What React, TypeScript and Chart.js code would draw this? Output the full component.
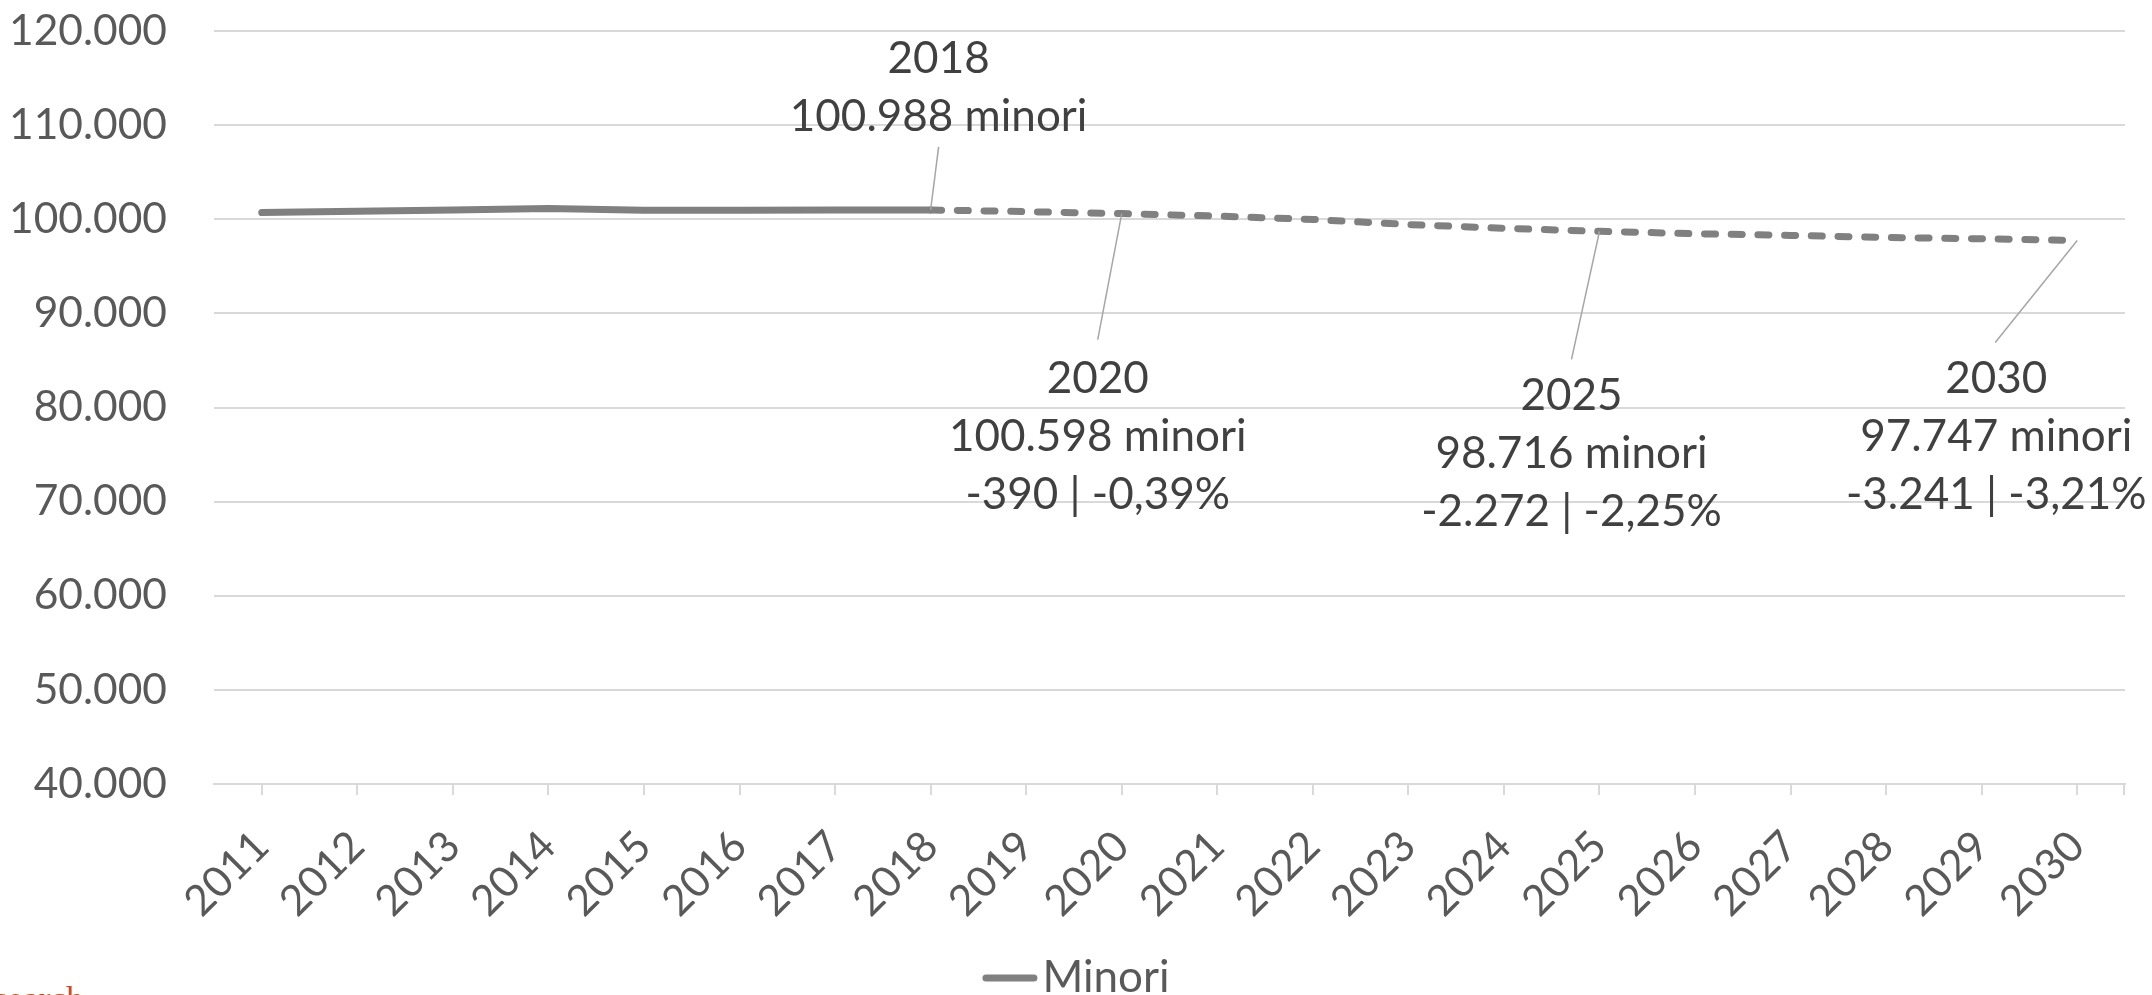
import React, { useEffect, useRef } from "react";
import { Chart, registerables } from "chart.js";

Chart.register(...registerables);

// ---- data ----
const years: string[] = [
  "2011", "2012", "2013", "2014", "2015", "2016", "2017", "2018", "2019", "2020",
  "2021", "2022", "2023", "2024", "2025", "2026", "2027", "2028", "2029", "2030",
];
const minori: number[] = [
  100704, 100840, 100990, 101132, 100952, 100960, 100975, 100988, 100808, 100598,
  100339, 99978, 99437, 99041, 98716, 98464, 98283, 98067, 97923, 97747,
];
const seriesLabel = "Minori";
const lastActualIndex = 7; // 2018: last observed year, forecast dashed afterwards
const yMin = 40000;
const yMax = 120000;
const yStep = 10000;
const annotatedYears: string[] = ["2018", "2020", "2025", "2030"];
const footerText = "search";

// ---- styling / placement of callouts (relative to their point) ----
const calloutOffsets = [
  { dx: 8, dy: -153, lx: 8, ly: -63 },
  { dx: -24, dy: 163, lx: -24, ly: 126 },
  { dx: -28, dy: 163, lx: -28, ly: 128 },
  { dx: -81, dy: 137, lx: -82, ly: 102 },
];

const FONT = "Lato";
const AXIS_COLOR = "#595959";
const TEXT_COLOR = "#404040";
const GRID_COLOR = "#d9d9d9";
const LINE_COLOR = "#808080";
const AXIS_FONT_SIZE = 42.5;
const CALLOUT_FONT_SIZE = 44;

function fmtInt(v: number): string {
  const s = Math.abs(Math.round(v)).toString().replace(/\B(?=(\d{3})+(?!\d))/g, ".");
  return (v < 0 ? "-" : "") + s;
}
function fmtPct(v: number): string {
  return (v < 0 ? "-" : "") + Math.abs(v).toFixed(2).replace(".", ",") + "%";
}

function calloutLines(idx: number): string[] {
  const base = minori[lastActualIndex];
  const val = minori[idx];
  const lines = [years[idx], `${fmtInt(val)} minori`];
  if (idx !== lastActualIndex) {
    const diff = val - base;
    lines.push(`${fmtInt(diff)} | ${fmtPct((diff / base) * 100)}`);
  }
  return lines;
}

const overlayPlugin = {
  id: "overlay",
  afterDatasetsDraw(chart: any) {
    const ctx: CanvasRenderingContext2D = chart.ctx;
    const xs = chart.scales.x;
    const ys = chart.scales.y;
    const area = chart.chartArea;
    ctx.save();

    // closing tick mark at right end of the category axis
    ctx.strokeStyle = GRID_COLOR;
    ctx.lineWidth = 2;
    ctx.beginPath();
    ctx.moveTo(area.right - 1, area.bottom);
    ctx.lineTo(area.right - 1, area.bottom + 11);
    ctx.stroke();

    // callouts
    annotatedYears.forEach((yr, i) => {
      const idx = years.indexOf(yr);
      const px = xs.getPixelForValue(idx);
      const py = ys.getPixelForValue(minori[idx]);
      const o = calloutOffsets[i];
      ctx.strokeStyle = "#a6a6a6";
      ctx.lineWidth = 1.5;
      ctx.beginPath();
      ctx.moveTo(px, py);
      ctx.lineTo(px + o.lx, py + o.ly);
      ctx.stroke();
      ctx.fillStyle = TEXT_COLOR;
      ctx.font = `${CALLOUT_FONT_SIZE}px ${FONT}`;
      ctx.textAlign = "center";
      ctx.textBaseline = "alphabetic";
      calloutLines(idx).forEach((t, k) => {
        ctx.fillText(t, px + o.dx, py + o.dy + k * 58 + 16);
      });
    });

    // legend
    ctx.font = `${CALLOUT_FONT_SIZE}px ${FONT}`;
    const tw = ctx.measureText(seriesLabel).width;
    const lineLen = 55;
    const gap = 5;
    const total = lineLen + gap + tw;
    const sx = chart.width / 2 - total / 2;
    const ly = chart.height - 17;
    ctx.strokeStyle = LINE_COLOR;
    ctx.lineWidth = 7;
    ctx.lineCap = "round";
    ctx.beginPath();
    ctx.moveTo(sx + 3.5, ly);
    ctx.lineTo(sx + lineLen - 3.5, ly);
    ctx.stroke();
    ctx.fillStyle = AXIS_COLOR;
    ctx.textAlign = "left";
    ctx.textBaseline = "alphabetic";
    ctx.fillText(seriesLabel, sx + lineLen + gap, chart.height - 3);

    // footer fragment (cut by the bottom edge)
    ctx.font = "35px 'Liberation Serif', serif";
    ctx.fillStyle = "#cc4b1f";
    ctx.fillText(footerText, -6, chart.height + 16);

    ctx.restore();
  },
};

export default function App() {
  const ref = useRef<HTMLCanvasElement>(null);
  useEffect(() => {
    if (!ref.current) return;
    const chart = new Chart(ref.current, {
      type: "line",
      data: {
        labels: years,
        datasets: [
          {
            label: seriesLabel,
            data: minori,
            borderColor: LINE_COLOR,
            backgroundColor: LINE_COLOR,
            borderWidth: 7,
            borderCapStyle: "round",
            borderJoinStyle: "round",
            pointRadius: 0,
            pointHoverRadius: 0,
            fill: false,
            tension: 0,
            segment: {
              borderDash: (c: any) => (c.p0DataIndex >= lastActualIndex ? [11, 15.7] : []),
            },
          } as any,
        ],
      },
      options: {
        responsive: false,
        animation: false,
        devicePixelRatio: 1,
        events: [],
        layout: { padding: { top: 31, right: 27, left: 0, bottom: 0 } },
        plugins: { legend: { display: false }, tooltip: { enabled: false } },
        scales: {
          x: {
            offset: true,
            grid: {
              drawOnChartArea: false,
              drawTicks: true,
              tickLength: 11,
              color: GRID_COLOR,
              lineWidth: 2,
              offset: false,
            },
            border: { display: true, color: GRID_COLOR, width: 2 },
            ticks: {
              autoSkip: false,
              maxRotation: 45,
              minRotation: 45,
              padding: 26,
              color: AXIS_COLOR,
              font: { family: FONT, size: AXIS_FONT_SIZE },
            },
            afterFit: (s: any) => {
              s.height = 211;
            },
          },
          y: {
            min: yMin,
            max: yMax,
            ticks: {
              stepSize: yStep,
              padding: 47,
              color: AXIS_COLOR,
              font: { family: FONT, size: AXIS_FONT_SIZE },
              callback: (v: any) => fmtInt(Number(v)),
            },
            grid: { color: GRID_COLOR, lineWidth: 2, drawTicks: false },
            border: { display: false },
            afterFit: (s: any) => {
              s.width = 214;
              s.paddingTop = 0;
              s.paddingBottom = 0;
            },
          },
        },
      } as any,
      plugins: [overlayPlugin],
    });
    return () => chart.destroy();
  }, []);

  return (
    <div
      style={{
        position: "absolute",
        left: 0,
        top: 0,
        width: 2152,
        height: 995,
        overflow: "hidden",
        background: "#ffffff",
      }}
    >
      <canvas ref={ref} width={2152} height={995} style={{ display: "block" }} />
    </div>
  );
}
